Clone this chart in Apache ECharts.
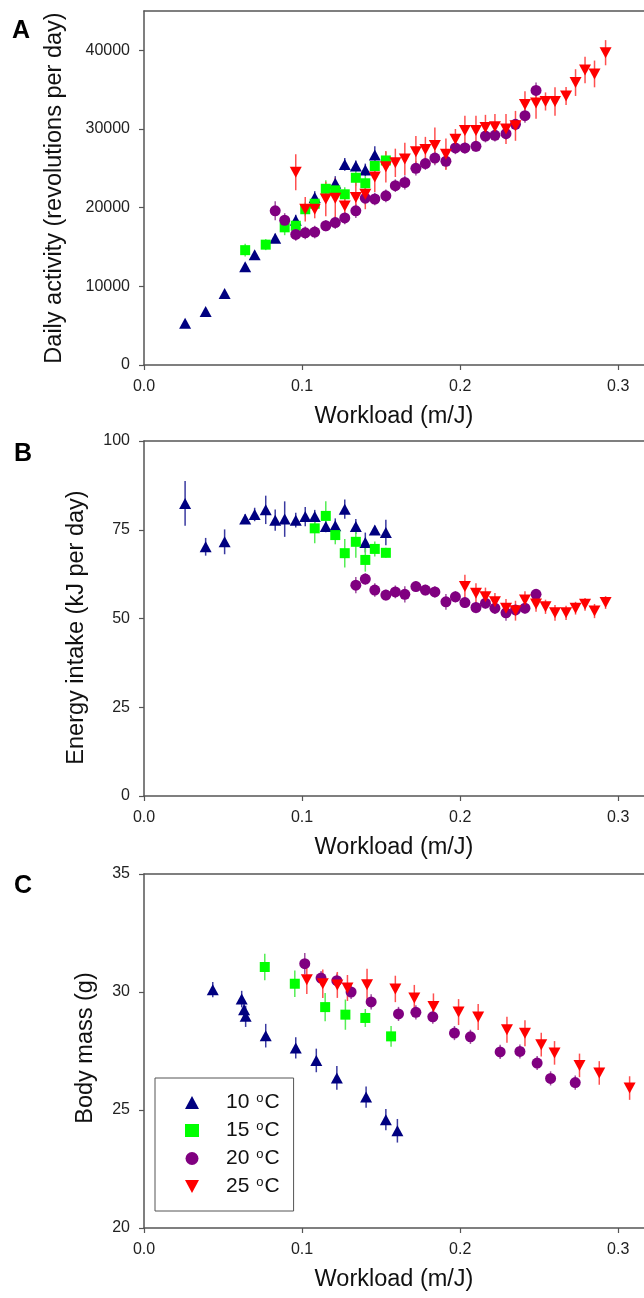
<!DOCTYPE html>
<html><head><meta charset="utf-8">
<script src="https://cdn.jsdelivr.net/npm/echarts@6/dist/echarts.min.js"></script>
<style>html,body{margin:0;padding:0;background:#fff}#c{width:644px;height:1298px}</style>
</head><body><div id="c"></div>
<script>
// ---------- tick labels ----------
const xTicks = [0, 0.1, 0.2, 0.3];
const yTicksA = [0, 10000, 20000, 30000, 40000];
const yTicksB = [0, 25, 50, 75, 100];
const yTicksC = [20, 25, 30, 35];
const groupNames = ['10 °C', '15 °C', '20 °C', '25 °C'];

// ---------- Panel A: daily activity ----------
const xA10 = [0.026,0.039,0.051,0.064,0.070,0.083,0.096,0.108,0.121,0.127,0.134,0.140,0.146];
const yA10 = [5300,6800,9100,12500,14000,16100,18400,21300,23100,25500,25300,24800,26700];
const eA10 = [300,300,300,400,400,600,700,800,900,800,700,800,1100];

const xA15 = [0.064,0.077,0.089,0.096,0.102,0.108,0.115,0.121,0.127,0.134,0.140,0.146,0.153];
const yA15 = [14600,15300,17500,17700,19800,20500,22400,22200,21700,23800,23100,25300,26000];
const eA15 = [800,700,1000,900,900,1000,1100,1000,900,1000,900,1000,1100];

const xA20 = [0.083,0.089,0.096,0.102,0.108,0.115,0.121,0.127,0.134,0.140,0.146,0.153,0.159,0.165,0.172,0.178,0.184,0.191,0.197,0.203,0.210,0.216,0.222,0.229,0.235,0.241,0.248];
const yA20 = [19600,18400,16600,16800,16900,17700,18100,18700,19600,21200,21100,21500,22800,23200,25000,25600,26300,25900,27600,27600,27800,29100,29200,29400,30600,31700,34900];
const eA20 = [1200,900,800,800,800,700,800,800,900,800,800,800,800,900,900,800,900,1000,800,700,700,800,800,800,700,900,1000];

const xA25 = [0.096,0.102,0.108,0.115,0.121,0.127,0.134,0.140,0.146,0.153,0.159,0.165,0.172,0.178,0.184,0.191,0.197,0.203,0.210,0.216,0.222,0.229,0.235,0.241,0.248,0.254,0.260,0.267,0.273,0.279,0.285,0.292];
const yA25 = [24500,19800,19800,21100,21200,20200,21300,21700,23900,25200,25700,26200,27100,27400,27900,26800,28700,29800,29800,30200,30300,30000,30400,33100,33300,33500,33500,34200,35900,37500,37000,39700];
const eA25 = [2300,1550,1150,2200,2600,1550,2100,1900,1900,2000,1800,2050,2000,1600,2300,2000,1300,1900,1900,1600,1600,1900,1900,1700,2000,1150,1800,1150,1700,1700,1700,1600];

// ---------- Panel B: energy intake ----------
const xB10 = [0.026,0.039,0.051,0.064,0.070,0.077,0.083,0.089,0.096,0.102,0.108,0.115,0.121,0.127,0.134,0.140,0.146,0.153];
const yB10 = [82.4,70.2,71.6,78.0,79.3,80.6,77.7,78.0,77.7,78.7,78.7,75.9,76.1,80.8,75.9,71.4,74.9,74.2];
const eB10 = [6.3,2.5,3.5,1.4,1.9,4.0,3.0,5.0,2.1,2.7,1.9,1.6,2.1,2.7,2.1,2.8,1.2,3.6];

const xB15 = [0.108,0.115,0.121,0.127,0.134,0.140,0.146,0.153];
const yB15 = [75.4,78.9,73.5,68.4,71.6,66.5,69.6,68.5];
const eB15 = [4.2,4.1,2.6,4.0,4.5,3.3,2.1,1.4];

const xB20 = [0.134,0.140,0.146,0.153,0.159,0.165,0.172,0.178,0.184,0.191,0.197,0.203,0.210,0.216,0.222,0.229,0.235,0.241,0.248];
const yB20 = [59.4,61.1,58.0,56.6,57.5,56.8,59.0,58.0,57.5,54.7,56.1,54.5,53.1,54.3,52.9,51.6,52.4,52.9,56.8];
const eB20 = [2.3,1.6,1.9,1.5,1.8,2.3,1.5,1.5,1.6,2.2,1.6,1.5,1.6,1.5,1.6,2.2,1.5,1.5,1.3];

const xB25 = [0.203,0.210,0.216,0.222,0.229,0.235,0.241,0.248,0.254,0.260,0.267,0.273,0.279,0.285,0.292];
const yB25 = [59.0,57.1,56.1,54.7,52.9,52.2,55.2,54.1,53.3,51.6,51.6,52.9,54.0,52.1,54.5];
const eB25 = [3.3,2.8,2.6,2.5,2.6,2.8,2.5,2.2,2.0,2.2,2.0,1.8,1.8,2.0,1.8];

// ---------- Panel C: body mass ----------
const xC10 = [0.0435,0.0618,0.0633,0.0643,0.077,0.096,0.109,0.122,0.1405,0.153,0.1603];
const yC10 = [30.10,29.70,29.25,28.97,28.15,27.63,27.10,26.36,25.55,24.59,24.12];
const eC10 = [0.32,0.35,0.35,0.45,0.5,0.45,0.5,0.5,0.45,0.45,0.5];

const xC15 = [0.0764,0.0954,0.1146,0.1274,0.140,0.1563];
const yC15 = [31.06,30.35,29.36,29.04,28.90,28.12];
const eC15 = [0.56,0.56,0.6,0.64,0.38,0.44];

const xC20 = [0.1017,0.112,0.122,0.131,0.1437,0.161,0.172,0.1827,0.1964,0.2065,0.2253,0.2378,0.2487,0.2572,0.2728];
const yC20 = [31.20,30.59,30.48,30.00,29.58,29.07,29.14,28.95,28.26,28.10,27.46,27.48,26.99,26.34,26.16];
const eC20 = [0.45,0.3,0.3,0.3,0.32,0.3,0.3,0.3,0.3,0.3,0.3,0.3,0.3,0.3,0.3];

const xC25 = [0.103,0.1131,0.1223,0.1287,0.1411,0.159,0.171,0.1831,0.199,0.2114,0.2296,0.241,0.2513,0.2597,0.2755,0.288,0.3072];
const yC25 = [30.52,30.35,30.30,30.17,30.31,30.13,29.75,29.39,29.15,28.94,28.40,28.25,27.77,27.42,26.89,26.57,25.93];
const eC25 = [0.6,0.6,0.55,0.55,0.67,0.56,0.55,0.55,0.55,0.55,0.55,0.55,0.5,0.5,0.5,0.5,0.5];

// ---------- styling ----------
const colors = ['#000080', '#00ff00', '#800080', '#ff0000'];
const barColors = ['#3a3aa0', '#55ee55', '#a050a0', '#ff5050'];
const symbols = ['triangle', 'rect', 'circle', 'triangle'];
const legendIcons = ['triangle', 'rect', 'circle', 'path://M0,0 L12,0 L6,11 Z'];
const symbolSizes = [[12, 11], [10, 10], [11, 11], [12, 11]];
const rotations = [0, 0, 0, 180];
const FONT = '"Liberation Sans", Arial, sans-serif';
const axisColor = '#555';

const panels = [
  { xs: [xA10, xA15, xA20, xA25], ys: [yA10, yA15, yA20, yA25], es: [eA10, eA15, eA20, eA25] },
  { xs: [xB10, xB15, xB20, xB25], ys: [yB10, yB15, yB20, yB25], es: [eB10, eB15, eB20, eB25] },
  { xs: [xC10, xC15, xC20, xC25], ys: [yC10, yC15, yC20, yC25], es: [eC10, eC15, eC20, eC25] }
];

const XMAX = 0.3163;
const grids = [
  { left: 144, top: 11, width: 500, height: 354 },
  { left: 144, top: 441, width: 500, height: 355 },
  { left: 144, top: 874, width: 500, height: 354 }
];

const xAxes = [];
grids.forEach((g, i) => {
  xAxes.push({
    type: 'value', gridIndex: i, min: 0, max: XMAX, position: 'bottom',
    axisLine: { show: true, onZero: false, lineStyle: { color: axisColor, width: 1.5 } },
    axisTick: { show: true, length: 5, lineStyle: { color: axisColor, width: 1.2 }, customValues: xTicks },
    axisLabel: { customValues: xTicks, formatter: v => v.toFixed(1), fontSize: 16, color: '#222', fontFamily: FONT, margin: 14 },
    splitLine: { show: false },
    name: 'Workload (m/J)', nameLocation: 'middle', nameGap: 40,
    nameTextStyle: { fontSize: 23.5, color: '#111', fontFamily: FONT }
  });
});
grids.forEach((g, i) => {
  xAxes.push({
    type: 'value', gridIndex: i, min: 0, max: XMAX, position: 'top',
    axisLine: { show: true, onZero: false, lineStyle: { color: axisColor, width: 1.5 } },
    axisTick: { show: false }, axisLabel: { show: false }, splitLine: { show: false }
  });
});

const yCommon = (i, min, max, ticks, name, gap, pad) => ({
  type: 'value', gridIndex: i, min, max,
  axisLine: { show: true, onZero: false, lineStyle: { color: axisColor, width: 1.5 } },
  axisTick: { show: true, length: 5, lineStyle: { color: axisColor, width: 1.2 }, customValues: ticks },
  axisLabel: { customValues: ticks, formatter: v => String(v), fontSize: 16, color: '#222', fontFamily: FONT, margin: 14 },
  splitLine: { show: false },
  name, nameLocation: 'middle', nameGap: gap,
  nameTextStyle: { fontSize: 23.5, color: '#111', fontFamily: FONT, padding: pad }
});
const yAxes = [
  yCommon(0, 0, 45000, yTicksA, 'Daily activity (revolutions per day)', 77, [0, 0, 0, 0]),
  yCommon(1, 0, 100, yTicksB, 'Energy intake (kJ per day)', 55, [0, 18, 0, 0]),
  yCommon(2, 20, 35, yTicksC, 'Body mass (g)', 46, [0, 0, 0, 6])
];

function renderErr(params, api) {
  const x = api.value(0), y = api.value(1), e = api.value(2);
  const p1 = api.coord([x, y + e]);
  const p2 = api.coord([x, y - e]);
  return {
    type: 'line',
    shape: { x1: p1[0], y1: p1[1], x2: p2[0], y2: p2[1] },
    style: { stroke: api.visual('color'), lineWidth: 1.5 }
  };
}

const series = [];
panels.forEach((p, pi) => {
  for (let g = 0; g < 4; g++) {
    series.push({
      type: 'custom', name: groupNames[g] + ' error ' + pi,
      xAxisIndex: pi, yAxisIndex: pi, renderItem: renderErr,
      itemStyle: { color: barColors[g] }, z: 1, silent: true,
      encode: { x: 0, y: 1 },
      data: p.xs[g].map((x, i) => [x, p.ys[g][i], p.es[g][i]])
    });
  }
  for (let g = 0; g < 4; g++) {
    series.push({
      type: 'scatter', name: groupNames[g],
      xAxisIndex: pi, yAxisIndex: pi,
      symbol: symbols[g], symbolSize: symbolSizes[g], symbolRotate: rotations[g],
      itemStyle: { color: colors[g], opacity: 1 }, z: 2 + g,
      data: p.xs[g].map((x, i) => [x, p.ys[g][i]])
    });
  }
});

const chart = echarts.init(document.getElementById('c'), null, { renderer: 'canvas' });
chart.setOption({
  animation: false,
  backgroundColor: '#fff',
  title: [
    { text: 'A', left: 12, top: 19, padding: 0, textStyle: { fontSize: 25, fontWeight: 'bold', color: '#000', fontFamily: FONT } },
    { text: 'B', left: 14, top: 442, padding: 0, textStyle: { fontSize: 25, fontWeight: 'bold', color: '#000', fontFamily: FONT } },
    { text: 'C', left: 14, top: 874, padding: 0, textStyle: { fontSize: 25, fontWeight: 'bold', color: '#000', fontFamily: FONT } }
  ],
  grid: grids,
  xAxis: xAxes,
  yAxis: yAxes,
  legend: {
    data: groupNames.map((n, g) => ({ name: n, icon: legendIcons[g] })),
    orient: 'vertical', left: 155, top: 1078,
    padding: [14, 14, 14, 30], itemWidth: 14, itemHeight: 13, itemGap: 7,
    borderColor: '#555', borderWidth: 1, selectedMode: false,
    formatter: name => '{n|' + name.split(' ')[0] + ' }{s|o}{n|C}',
    textStyle: {
      fontFamily: FONT, color: '#111', fontSize: 21, padding: [0, 0, 0, 22],
      rich: {
        n: { fontSize: 21, fontFamily: FONT, color: '#111', lineHeight: 22 },
        s: { fontSize: 13, fontFamily: FONT, color: '#111', padding: [0, 1, 8, 1] }
      }
    }
  },
  series
});
</script></body></html>
